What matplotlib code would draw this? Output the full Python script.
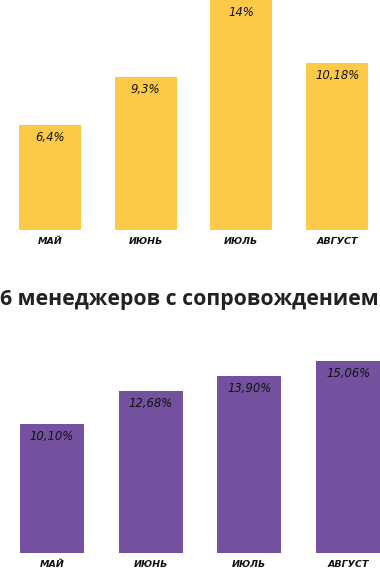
import matplotlib
matplotlib.use("Agg")
import matplotlib.pyplot as plt

months = ["МАЙ", "ИЮНЬ", "ИЮЛЬ", "АВГУСТ"]
top_values = [6.4, 9.3, 14.0, 10.18]
top_labels = ["6,4%", "9,3%", "14%", "10,18%"]
bottom_values = [10.10, 12.68, 13.90, 15.06]
bottom_labels = ["10,10%", "12,68%", "13,90%", "15,06%"]
title = "6 менеджеров с сопровождением"

W, H = 380, 570
fig = plt.figure(figsize=(W / 100, H / 100), dpi=100)
fig.patch.set_facecolor("white")

yellow = "#FCCA46"
purple = "#73519F"
txt = "#111111"


def px_axes(left, top, right, bottom):
    return fig.add_axes([left / W, 1 - bottom / H, (right - left) / W, (bottom - top) / H])


def draw(ax, values, labels, color, ymax, xl, xr, width):
    x = list(range(len(values)))
    ax.bar(x, values, width=width, color=color, zorder=2)
    ax.set_xlim(xl, xr)
    ax.set_ylim(0, ymax)
    for xi, v, lab in zip(x, values, labels):
        ax.annotate(lab, (xi, v), xytext=(0, -9), textcoords="offset points",
                    ha="center", va="center", fontsize=8.4, style="italic",
                    color=txt, family="DejaVu Sans")
    ax.set_xticks(x)
    ax.set_xticklabels(months, fontsize=6.8, fontweight="bold", style="italic",
                       color=txt, family="DejaVu Sans")
    ax.tick_params(axis="x", length=0, pad=5)
    ax.set_yticks([])
    for s in ax.spines.values():
        s.set_visible(False)
    ax.patch.set_alpha(0)


ax1 = px_axes(0, 0, W, 230)
draw(ax1, top_values, top_labels, yellow, 14.0, -0.522, 3.448, 0.648)

ax2 = px_axes(0, 552.7 - 16 * 12.72, W, 552.7)
draw(ax2, bottom_values, bottom_labels, purple, 16.0, -0.527, 3.323, 0.648)

fig.text(0.0, 1 - 300 / H, title, ha="left", va="center", fontsize=15.3,
         fontweight="bold", family="Open Sans", color="#222222")

fig.savefig("out.png", dpi=100)
